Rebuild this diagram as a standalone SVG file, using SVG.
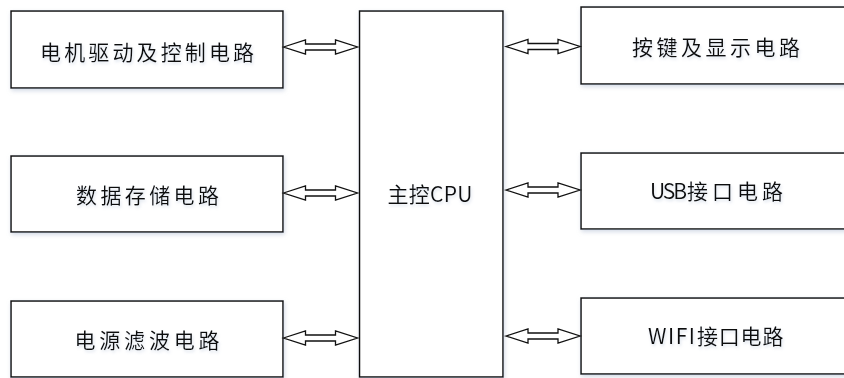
<svg xmlns="http://www.w3.org/2000/svg" xmlns:xlink="http://www.w3.org/1999/xlink" width="844" height="378" viewBox="0 0 844 378">
<style>
.box{fill:#fff;stroke:#111;stroke-width:1.5;filter:url(#sh)}
.lbl{font-family:"Noto Sans CJK SC","Noto Sans",sans-serif;font-size:21px;fill:#111;text-anchor:middle;filter:url(#tsh)}
.st{text-anchor:start}
.arr{fill:#fff;stroke:#111;stroke-width:1.3;stroke-linejoin:miter}
</style>
<defs>
<filter id="sh" x="-10%" y="-10%" width="120%" height="130%">
<feGaussianBlur in="SourceAlpha" stdDeviation="2"/>
<feOffset dx="1" dy="2" result="b"/>
<feFlood flood-color="#aebbd0" flood-opacity="0.55"/>
<feComposite in2="b" operator="in"/>
<feMerge><feMergeNode/><feMergeNode in="SourceGraphic"/></feMerge>
</filter>
<filter id="tsh" x="-10%" y="-30%" width="120%" height="160%">
<feGaussianBlur in="SourceAlpha" stdDeviation="1.5"/>
<feOffset dx="1" dy="2" result="b"/>
<feFlood flood-color="#b9c6da" flood-opacity="0.5"/>
<feComposite in2="b" operator="in"/>
<feMerge><feMergeNode/><feMergeNode in="SourceGraphic"/></feMerge>
</filter>
<path id="dbl" class="arr" d="M0,0 L22,-7 L22,-3 L52,-3 L52,-7 L74,0 L52,7 L52,3 L22,3 L22,7 Z"/>
</defs>
<rect width="844" height="378" fill="#fff"/>
<g id="motor">
<rect class="box" x="11" y="11" width="272" height="77"/>
<text class="lbl" x="147" y="59.5" textLength="214" lengthAdjust="spacing">电机驱动及控制电路</text>
</g>
<g id="storage">
<rect class="box" x="11" y="156" width="272" height="76"/>
<text class="lbl" x="147.5" y="203" textLength="143" lengthAdjust="spacing">数据存储电路</text>
</g>
<g id="power">
<rect class="box" x="11" y="301" width="272" height="76"/>
<text class="lbl" x="147" y="348" textLength="145" lengthAdjust="spacing">电源滤波电路</text>
</g>
<g id="cpu">
<rect class="box" x="359.5" y="11" width="143.5" height="366"/>
<text class="lbl" x="430" y="202" textLength="85" lengthAdjust="spacing">主控CPU</text>
</g>
<g id="keys">
<rect class="box" x="581" y="7" width="272" height="77"/>
<text class="lbl" x="716" y="54.5" textLength="168" lengthAdjust="spacing">按键及显示电路</text>
</g>
<g id="usb">
<rect class="box" x="581" y="153" width="272" height="76"/>
<text class="lbl st" x="650" y="199"><tspan textLength="37" lengthAdjust="spacing">USB</tspan><tspan x="687" letter-spacing="4">接口电路</tspan></text>
</g>
<g id="wifi">
<rect class="box" x="581" y="298" width="272" height="76"/>
<text class="lbl st" x="648" y="343.5"><tspan textLength="47" lengthAdjust="spacing">WIFI</tspan><tspan x="697" letter-spacing="0.8">接口电路</tspan></text>
</g>
<g id="connectors">
<use xlink:href="#dbl" x="283.5" y="47"/>
<use xlink:href="#dbl" x="283.5" y="193"/>
<use xlink:href="#dbl" x="283.5" y="338"/>
<use xlink:href="#dbl" x="506" y="46.5"/>
<use xlink:href="#dbl" x="506" y="190"/>
<use xlink:href="#dbl" x="506" y="336"/>
</g>
</svg>
